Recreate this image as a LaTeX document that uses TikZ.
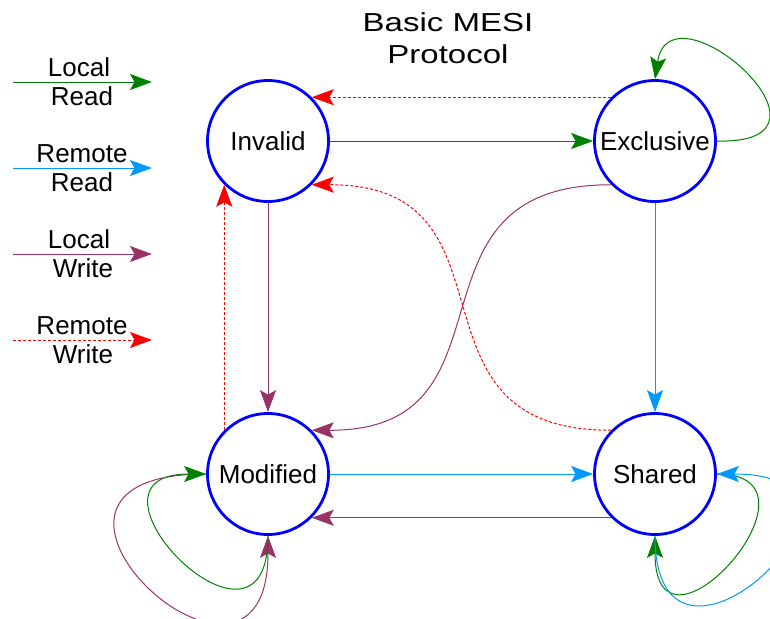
\documentclass[tikz,border=0pt]{standalone}
\usepackage{fontspec}
\setmainfont{Liberation Sans}
\usetikzlibrary{arrows.meta}
\definecolor{cgreen}{HTML}{008000}
\definecolor{cblue}{HTML}{0099FF}
\definecolor{cpurple}{HTML}{993366}
\definecolor{cred}{HTML}{FF0000}
\definecolor{cstate}{HTML}{0000FF}
\begin{document}
\begin{tikzpicture}[x=1pt,y=1pt,
  state/.style={circle, draw=cstate, fill=white, line width=2.8pt, minimum size=121pt, inner sep=0pt, font=\fontsize{26}{30}\selectfont},
  lbl/.style={anchor=base, font=\fontsize{26}{30}\selectfont, inner sep=0pt},
  conn/.style={line width=1pt, -{Stealth[length=22pt,width=16pt,inset=4.5pt]}},
  lr/.style={conn, cgreen},
  rr/.style={conn, cblue},
  lw/.style={conn, cpurple},
  rw/.style={conn, cred, dash pattern=on 3pt off 2pt},
]
\useasboundingbox (0,0) rectangle (770,-618);

% states
\node[state] (I) at (268,-141) {Invalid};
\node[state] (E) at (655,-141) {Exclusive};
\node[state] (M) at (268,-474) {Modified};
\node[state] (S) at (655,-474) {Shared};

% title
\node[lbl] (t1) at (448,-31.7) {\scalebox{1.27}[1]{Basic MESI}};
\node[lbl] (t2) at (448,-63.3) {\scalebox{1.27}[1]{Protocol}};

% legend
\coordinate (a1) at (13,-82);  \coordinate (a2) at (152,-82);
\draw[lr] (a1) -- (a2);
\node[lbl] (la1) at (79,-76.8) {Local};
\node[lbl] (la2) at (82,-105.8) {Read};

\coordinate (b1) at (13,-168); \coordinate (b2) at (152,-168);
\draw[rr] (b1) -- (b2);
\node[lbl] (lb1) at (82,-162.8) {Remote};
\node[lbl] (lb2) at (82,-191.8) {Read};

\coordinate (c1) at (13,-254); \coordinate (c2) at (152,-254);
\draw[lw] (c1) -- (c2);
\node[lbl] (lc1) at (79,-248.8) {Local};
\node[lbl] (lc2) at (83,-277.8) {Write};

\coordinate (d1) at (13,-340); \coordinate (d2) at (152,-340);
\draw[rw] (d1) -- (d2);
\node[lbl] (ld1) at (82,-334.8) {Remote};
\node[lbl] (ld2) at (83,-363.8) {Write};

% transitions
\draw[rw] (E.135) -- (I.45);
\draw[lr] (I.east) -- (E.west);
\draw[lw] (I.south) -- (M.north);
\draw[rw] (M.135) -- (I.225);
\draw[rr] (E.south) -- (S.north);
\draw[rr] (M.east) -- (S.west);
\draw[lw] (S.225) -- (M.315);
\draw[lw] (E.225) .. controls (392,-184) and (527,-431) .. (M.45);
\draw[rw] (S.135) .. controls (392,-431) and (530,-184) .. (I.315);

% self loops
\draw[lr] (E.east) .. controls (860,-145) and (670,22) .. (E.north);
\draw[lw] (M.west) .. controls (-33,-474) and (268,-750) .. (M.south);
\draw[lr] (M.south) .. controls (268,-685) and (62,-474) .. (M.west);
\draw[lr] (S.east) .. controls (839,-474) and (655,-681) .. (S.south);
\draw[rr] (S.south) .. controls (655,-724) and (916,-474) .. (S.east);
\end{tikzpicture}
\end{document}
